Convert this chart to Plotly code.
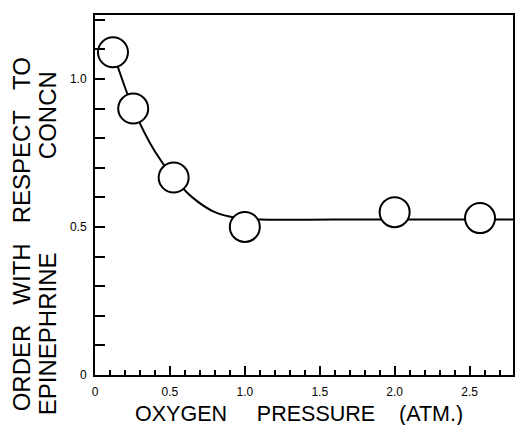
import plotly.graph_objects as go

# measured points
pressure = [0.12, 0.255, 0.525, 1.0, 2.0, 2.57]
order = [1.09, 0.90, 0.667, 0.50, 0.55, 0.53]

# smooth fitted curve
fit_x = [0.12, 0.255, 0.40, 0.525, 0.65, 0.80, 0.95, 1.10, 1.6, 2.2, 2.79]
fit_y = [1.09, 0.90, 0.755, 0.667, 0.60, 0.55, 0.53, 0.525, 0.525, 0.525, 0.525]

x_tickvals = [0, 0.5, 1.0, 1.5, 2.0, 2.5]
x_ticktext = ["0", "0.5", "1.0", "1.5", "2.0", "2.5"]
y_tickvals = [0, 0.5, 1.0]
y_ticktext = ["0", "0.5", "1.0"]

NB = "\u00a0"
x_title = "OXYGEN" + NB * 5 + "PRESSURE" + NB * 4 + "(ATM.)"
y_line1 = "ORDER" + NB * 3 + "WITH" + NB * 3 + "RESPECT" + NB * 3 + "TO"
y_line2 = "EPINEPHRINE" + NB * 14 + "CONCN"

fig = go.Figure()
fig.add_trace(go.Scatter(x=fit_x, y=fit_y, mode="lines",
                         line=dict(color="black", width=2, shape="spline", smoothing=1.0),
                         hoverinfo="skip", showlegend=False))
fig.add_trace(go.Scatter(x=pressure, y=order, mode="markers",
                         marker=dict(size=30, color="white", line=dict(color="black", width=2)),
                         showlegend=False))

W, H = 519, 425
L, R, T, B = 95, 4, 15, 50
pw, ph = W - L - R, H - T - B

def px_to_paper(px, py):
    return (px - L) / pw, (H - B - py) / ph

font_family = "Liberation Sans, Arial, sans-serif"

ax1, ay1 = px_to_paper(21, 234)
ax2, ay2 = px_to_paper(47, 243)
fig.add_annotation(x=ax1, y=ay1, xref="paper", yref="paper", text=y_line1, textangle=-90,
                   showarrow=False, xanchor="center", yanchor="middle",
                   font=dict(family=font_family, size=24, color="black"))
fig.add_annotation(x=ax2, y=ay2, xref="paper", yref="paper", text=y_line2, textangle=-90,
                   showarrow=False, xanchor="center", yanchor="middle",
                   font=dict(family=font_family, size=24, color="black"))
tx, ty = px_to_paper(300, 414)
fig.add_annotation(x=tx, y=ty, xref="paper", yref="paper", text=x_title,
                   showarrow=False, xanchor="center", yanchor="middle",
                   font=dict(family=font_family, size=21.5, color="black"))

fig.update_layout(
    width=W, height=H,
    margin=dict(l=L, r=R, t=T, b=B, pad=0),
    paper_bgcolor="white", plot_bgcolor="white",
    font=dict(family=font_family, color="black"),
    xaxis=dict(range=[0, 2.79], tickvals=x_tickvals, ticktext=x_ticktext,
               ticks="inside", ticklen=9, tickwidth=1.5, tickcolor="black",
               minor=dict(dtick=0.1, ticks="inside", ticklen=5, tickwidth=1.5, tickcolor="black"),
               showline=True, linecolor="black", linewidth=2, mirror=True,
               showgrid=False, zeroline=False, ticklabelstandoff=5,
               tickfont=dict(size=12, color="black")),
    yaxis=dict(range=[0, 1.216], tickvals=y_tickvals, ticktext=y_ticktext,
               ticks="inside", ticklen=10, tickwidth=1.5, tickcolor="black",
               minor=dict(dtick=0.1, ticks="inside", ticklen=10, tickwidth=1.5, tickcolor="black"),
               showline=True, linecolor="black", linewidth=2, mirror=True,
               showgrid=False, zeroline=False, ticklabelstandoff=4,
               tickfont=dict(size=12, color="black")),
)

fig.write_html("out.html")
